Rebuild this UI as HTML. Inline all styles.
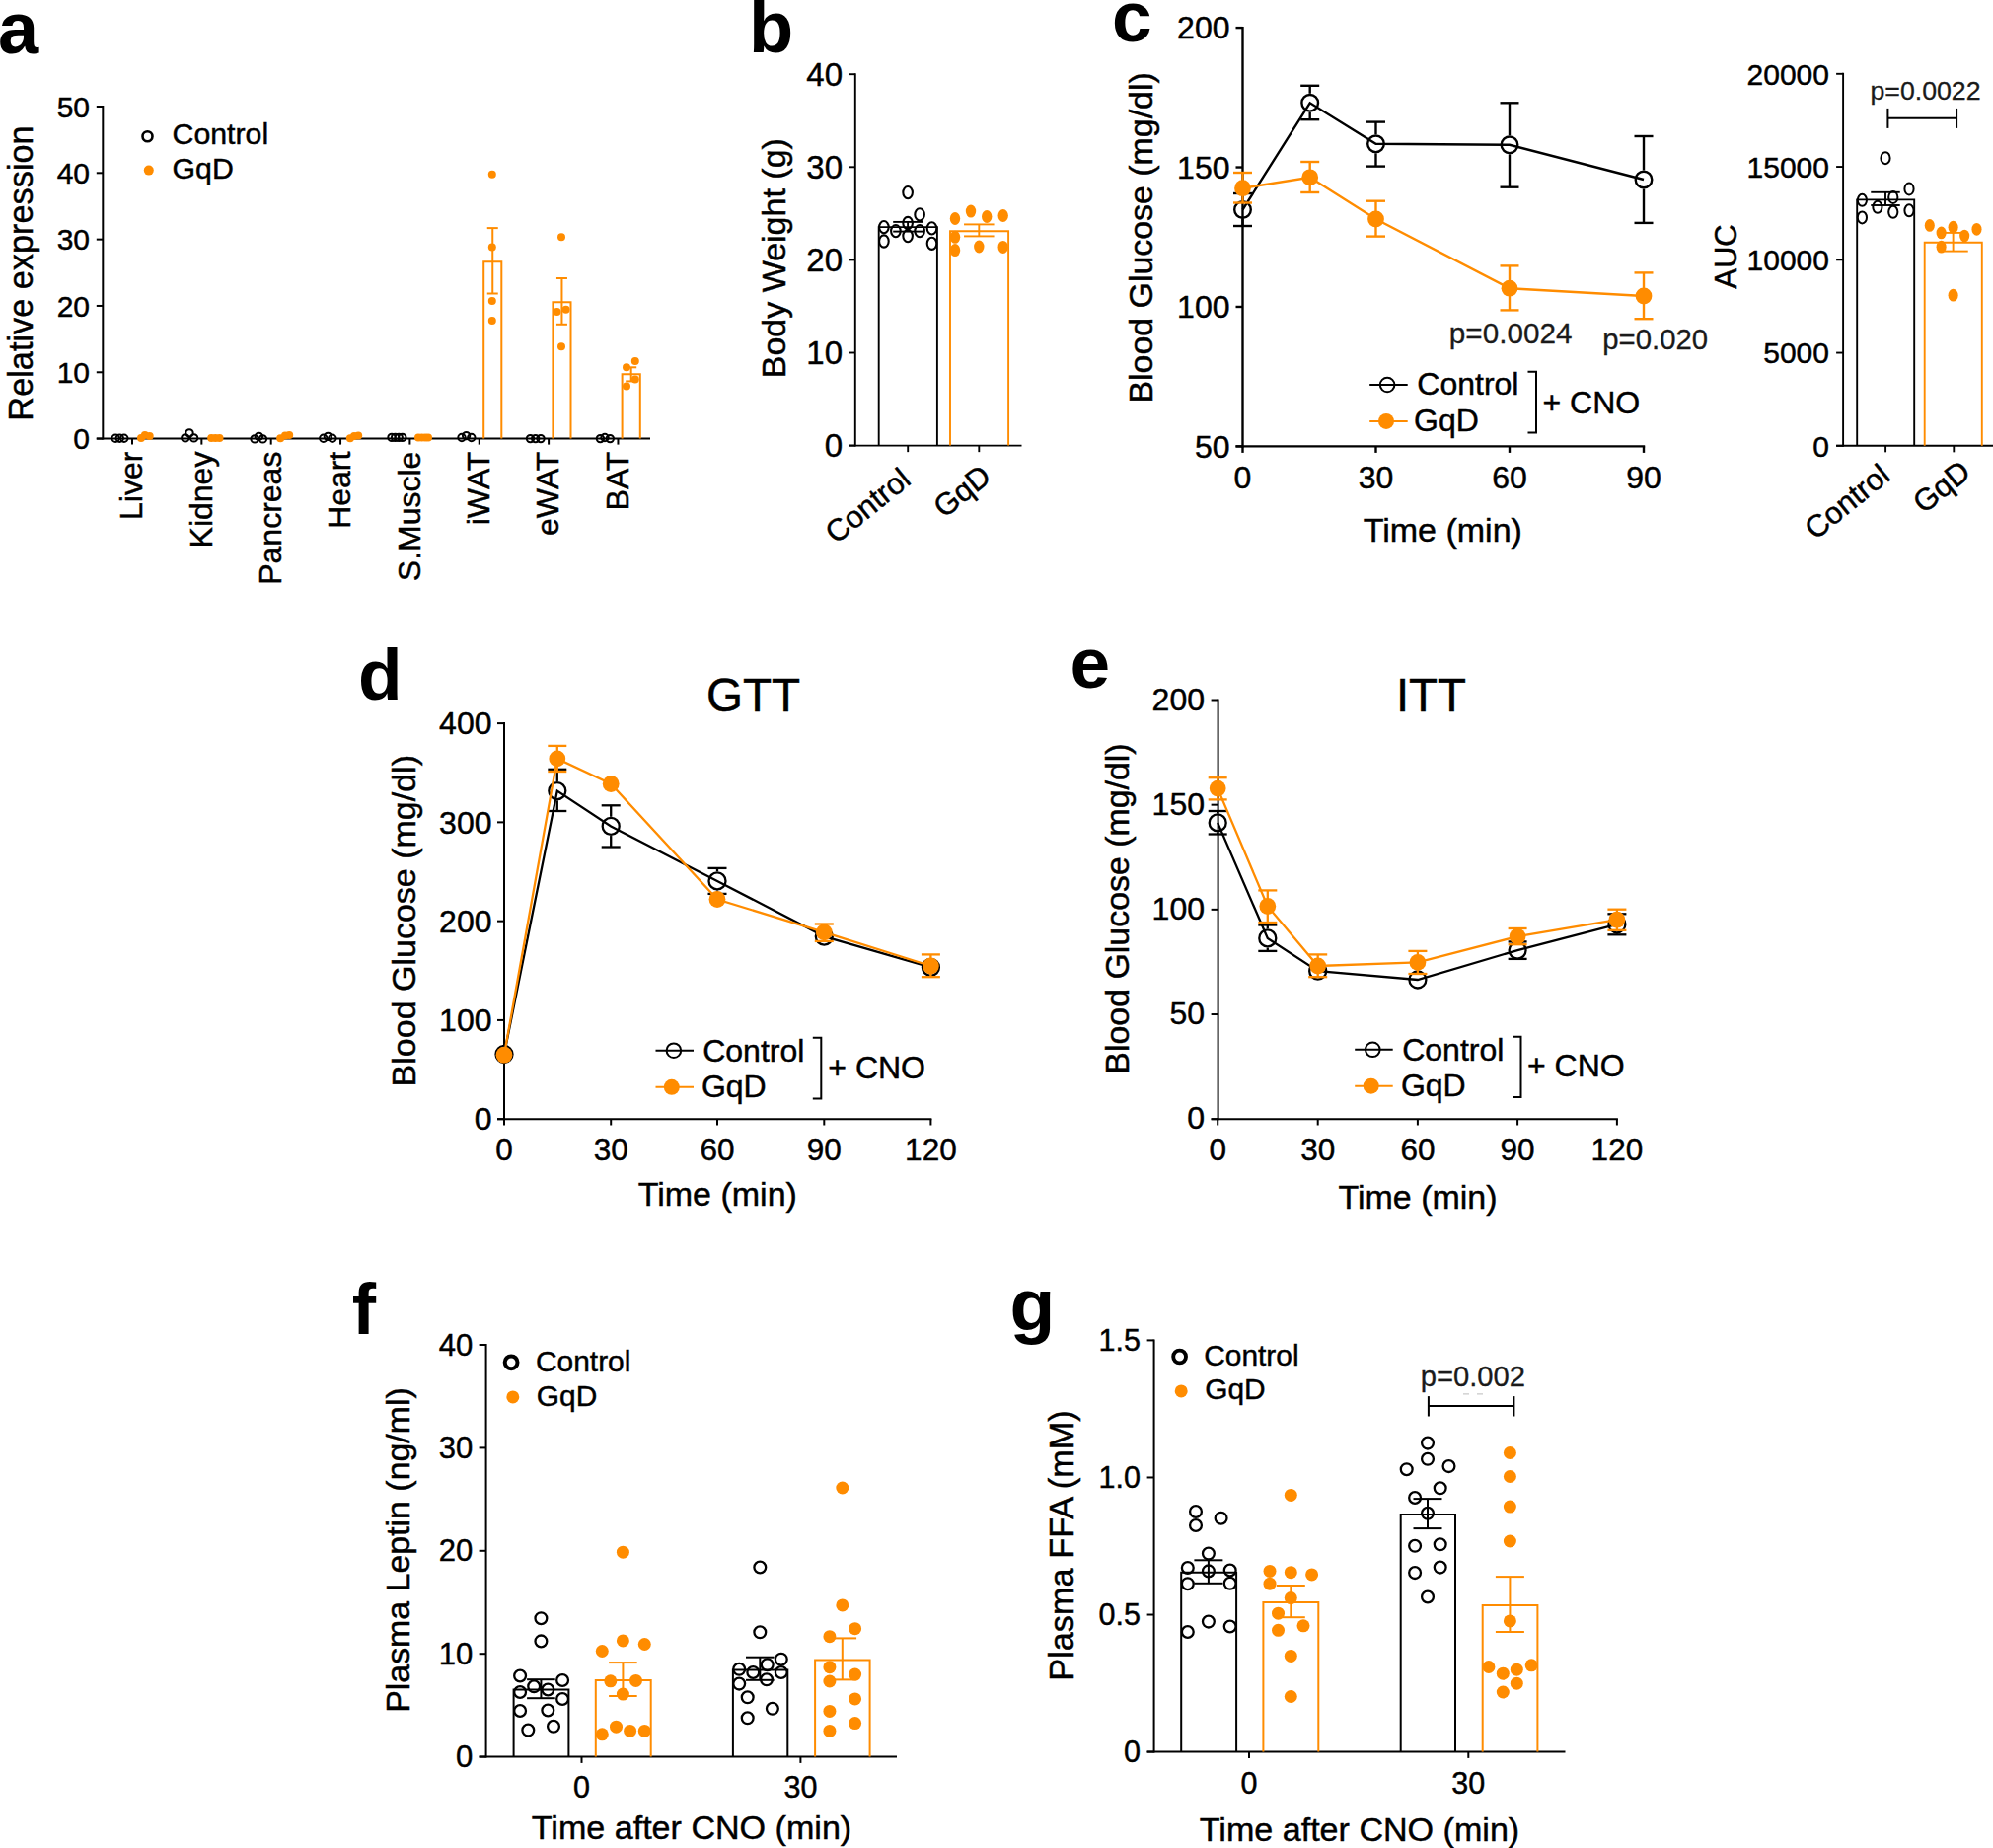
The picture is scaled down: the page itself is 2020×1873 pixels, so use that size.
<!DOCTYPE html>
<html lang="en">
<head>
<meta charset="utf-8">
<title>Figure</title>
<style>
html,body{margin:0;padding:0;background:#fff;}
svg{display:block;}
svg text{font-family:"Liberation Sans",sans-serif;}
</style>
</head>
<body>
<svg width="2020" height="1873" viewBox="0 0 2020 1873">
<rect width="2020" height="1873" fill="#fff"/>
<text x="-2" y="54" font-size="74" font-weight="bold">a</text>
<line x1="104.3" y1="107" x2="104.3" y2="445.6" stroke="#000" stroke-width="2"/>
<line x1="97.8" y1="444.6" x2="659" y2="444.6" stroke="#000" stroke-width="2"/>
<line x1="97.8" y1="444.6" x2="104.3" y2="444.6" stroke="#000" stroke-width="2"/>
<line x1="97.8" y1="377.28" x2="104.3" y2="377.28" stroke="#000" stroke-width="2"/>
<line x1="97.8" y1="309.96" x2="104.3" y2="309.96" stroke="#000" stroke-width="2"/>
<line x1="97.8" y1="242.64" x2="104.3" y2="242.64" stroke="#000" stroke-width="2"/>
<line x1="97.8" y1="175.32" x2="104.3" y2="175.32" stroke="#000" stroke-width="2"/>
<line x1="97.8" y1="108" x2="104.3" y2="108" stroke="#000" stroke-width="2"/>
<line x1="134" y1="444.6" x2="134" y2="450.6" stroke="#000" stroke-width="2"/>
<line x1="204.35" y1="444.6" x2="204.35" y2="450.6" stroke="#000" stroke-width="2"/>
<line x1="274.7" y1="444.6" x2="274.7" y2="450.6" stroke="#000" stroke-width="2"/>
<line x1="345.05" y1="444.6" x2="345.05" y2="450.6" stroke="#000" stroke-width="2"/>
<line x1="415.4" y1="444.6" x2="415.4" y2="450.6" stroke="#000" stroke-width="2"/>
<line x1="485.75" y1="444.6" x2="485.75" y2="450.6" stroke="#000" stroke-width="2"/>
<line x1="556.1" y1="444.6" x2="556.1" y2="450.6" stroke="#000" stroke-width="2"/>
<line x1="626.45" y1="444.6" x2="626.45" y2="450.6" stroke="#000" stroke-width="2"/>
<text x="91" y="455.3" font-size="30" text-anchor="end" stroke="#000" stroke-width="0.45">0</text>
<text x="91" y="387.98" font-size="30" text-anchor="end" stroke="#000" stroke-width="0.45">10</text>
<text x="91" y="320.66" font-size="30" text-anchor="end" stroke="#000" stroke-width="0.45">20</text>
<text x="91" y="253.34" font-size="30" text-anchor="end" stroke="#000" stroke-width="0.45">30</text>
<text x="91" y="186.02" font-size="30" text-anchor="end" stroke="#000" stroke-width="0.45">40</text>
<text x="91" y="118.7" font-size="30" text-anchor="end" stroke="#000" stroke-width="0.45">50</text>
<text transform="translate(33.2 277) rotate(-90)" font-size="34.3" text-anchor="middle" stroke="#000" stroke-width="0.45">Relative expression</text>
<text transform="translate(144.2 457.6) rotate(-90)" font-size="32" text-anchor="end" stroke="#000" stroke-width="0.45">Liver</text>
<text transform="translate(214.55 457.6) rotate(-90)" font-size="32" text-anchor="end" stroke="#000" stroke-width="0.45">Kidney</text>
<text transform="translate(284.9 457.6) rotate(-90)" font-size="32" text-anchor="end" stroke="#000" stroke-width="0.45">Pancreas</text>
<text transform="translate(355.25 457.6) rotate(-90)" font-size="32" text-anchor="end" stroke="#000" stroke-width="0.45">Heart</text>
<text transform="translate(425.6 457.6) rotate(-90)" font-size="32" text-anchor="end" stroke="#000" stroke-width="0.45">S.Muscle</text>
<text transform="translate(495.95 457.6) rotate(-90)" font-size="32" text-anchor="end" stroke="#000" stroke-width="0.45">iWAT</text>
<text transform="translate(566.3 457.6) rotate(-90)" font-size="32" text-anchor="end" stroke="#000" stroke-width="0.45">eWAT</text>
<text transform="translate(636.65 457.6) rotate(-90)" font-size="32" text-anchor="end" stroke="#000" stroke-width="0.45">BAT</text>
<ellipse cx="149.5" cy="138.3" rx="5" ry="5" fill="none" stroke="#000" stroke-width="2.6"/>
<text x="174.5" y="146.3" font-size="30.3" stroke="#000" stroke-width="0.45">Control</text>
<ellipse cx="150.8" cy="172.6" rx="5" ry="5" fill="#FF8C00"/>
<text x="174.5" y="181.2" font-size="30.3" stroke="#000" stroke-width="0.45">GqD</text>
<polyline fill="none" stroke="#FF8C00" stroke-width="2" points="490.2,444.6 490.2,265.2 508.3,265.2 508.3,444.6"/>
<line x1="499.25" y1="231.1" x2="499.25" y2="297.5" stroke="#FF8C00" stroke-width="2"/>
<line x1="493.75" y1="231.1" x2="504.75" y2="231.1" stroke="#FF8C00" stroke-width="2"/>
<line x1="493.75" y1="297.5" x2="504.75" y2="297.5" stroke="#FF8C00" stroke-width="2"/>
<polyline fill="none" stroke="#FF8C00" stroke-width="2" points="560.4,444.6 560.4,306.3 578.5,306.3 578.5,444.6"/>
<line x1="569.45" y1="282" x2="569.45" y2="328.8" stroke="#FF8C00" stroke-width="2"/>
<line x1="563.95" y1="282" x2="574.95" y2="282" stroke="#FF8C00" stroke-width="2"/>
<line x1="563.95" y1="328.8" x2="574.95" y2="328.8" stroke="#FF8C00" stroke-width="2"/>
<polyline fill="none" stroke="#FF8C00" stroke-width="2" points="630.6,444.6 630.6,379.3 648.8,379.3 648.8,444.6"/>
<line x1="639.7" y1="372.3" x2="639.7" y2="386.4" stroke="#FF8C00" stroke-width="2"/>
<line x1="634.2" y1="372.3" x2="645.2" y2="372.3" stroke="#FF8C00" stroke-width="2"/>
<line x1="634.2" y1="386.4" x2="645.2" y2="386.4" stroke="#FF8C00" stroke-width="2"/>
<ellipse cx="117.1" cy="444.3" rx="3.7" ry="3.7" fill="none" stroke="#000" stroke-width="2"/>
<ellipse cx="121.3" cy="444.3" rx="3.7" ry="3.7" fill="none" stroke="#000" stroke-width="2"/>
<ellipse cx="125.8" cy="444.3" rx="3.7" ry="3.7" fill="none" stroke="#000" stroke-width="2"/>
<ellipse cx="187.8" cy="443.9" rx="3.7" ry="3.7" fill="none" stroke="#000" stroke-width="2"/>
<ellipse cx="192" cy="438.9" rx="3.7" ry="3.7" fill="none" stroke="#000" stroke-width="2"/>
<ellipse cx="196.6" cy="443.9" rx="3.7" ry="3.7" fill="none" stroke="#000" stroke-width="2"/>
<ellipse cx="258.1" cy="444.9" rx="3.7" ry="3.7" fill="none" stroke="#000" stroke-width="2"/>
<ellipse cx="262.4" cy="442.4" rx="3.7" ry="3.7" fill="none" stroke="#000" stroke-width="2"/>
<ellipse cx="266.4" cy="444.9" rx="3.7" ry="3.7" fill="none" stroke="#000" stroke-width="2"/>
<ellipse cx="327.8" cy="444.3" rx="3.7" ry="3.7" fill="none" stroke="#000" stroke-width="2"/>
<ellipse cx="332.4" cy="442.4" rx="3.7" ry="3.7" fill="none" stroke="#000" stroke-width="2"/>
<ellipse cx="336.9" cy="444.3" rx="3.7" ry="3.7" fill="none" stroke="#000" stroke-width="2"/>
<ellipse cx="397" cy="443.4" rx="3.7" ry="3.7" fill="none" stroke="#000" stroke-width="2"/>
<ellipse cx="400.6" cy="443.4" rx="3.7" ry="3.7" fill="none" stroke="#000" stroke-width="2"/>
<ellipse cx="404.2" cy="443.4" rx="3.7" ry="3.7" fill="none" stroke="#000" stroke-width="2"/>
<ellipse cx="407.8" cy="443.4" rx="3.7" ry="3.7" fill="none" stroke="#000" stroke-width="2"/>
<ellipse cx="468" cy="443.5" rx="3.7" ry="3.7" fill="none" stroke="#000" stroke-width="2"/>
<ellipse cx="472.6" cy="441.6" rx="3.7" ry="3.7" fill="none" stroke="#000" stroke-width="2"/>
<ellipse cx="477.8" cy="443.5" rx="3.7" ry="3.7" fill="none" stroke="#000" stroke-width="2"/>
<ellipse cx="537.5" cy="444.6" rx="3.7" ry="3.7" fill="none" stroke="#000" stroke-width="2"/>
<ellipse cx="542.7" cy="444.6" rx="3.7" ry="3.7" fill="none" stroke="#000" stroke-width="2"/>
<ellipse cx="548" cy="444.6" rx="3.7" ry="3.7" fill="none" stroke="#000" stroke-width="2"/>
<ellipse cx="608.4" cy="444.6" rx="3.7" ry="3.7" fill="none" stroke="#000" stroke-width="2"/>
<ellipse cx="613" cy="443.5" rx="3.7" ry="3.7" fill="none" stroke="#000" stroke-width="2"/>
<ellipse cx="618.3" cy="444.6" rx="3.7" ry="3.7" fill="none" stroke="#000" stroke-width="2"/>
<ellipse cx="143" cy="443.9" rx="4" ry="4" fill="#FF8C00"/>
<ellipse cx="146.9" cy="440.9" rx="4" ry="4" fill="#FF8C00"/>
<ellipse cx="151.7" cy="441.9" rx="4" ry="4" fill="#FF8C00"/>
<ellipse cx="214.2" cy="443.9" rx="4" ry="4" fill="#FF8C00"/>
<ellipse cx="218.3" cy="443.9" rx="4" ry="4" fill="#FF8C00"/>
<ellipse cx="222.5" cy="443.9" rx="4" ry="4" fill="#FF8C00"/>
<ellipse cx="284.2" cy="444.3" rx="4" ry="4" fill="#FF8C00"/>
<ellipse cx="289" cy="441.6" rx="4" ry="4" fill="#FF8C00"/>
<ellipse cx="293.2" cy="440.9" rx="4" ry="4" fill="#FF8C00"/>
<ellipse cx="354.9" cy="444.3" rx="4" ry="4" fill="#FF8C00"/>
<ellipse cx="359" cy="441.9" rx="4" ry="4" fill="#FF8C00"/>
<ellipse cx="363.2" cy="441.6" rx="4" ry="4" fill="#FF8C00"/>
<ellipse cx="424" cy="443.4" rx="4" ry="4" fill="#FF8C00"/>
<ellipse cx="427.5" cy="443.4" rx="4" ry="4" fill="#FF8C00"/>
<ellipse cx="431" cy="443.4" rx="4" ry="4" fill="#FF8C00"/>
<ellipse cx="434" cy="443.4" rx="4" ry="4" fill="#FF8C00"/>
<ellipse cx="498.8" cy="176.7" rx="4" ry="4" fill="#FF8C00"/>
<ellipse cx="498.8" cy="250.4" rx="4" ry="4" fill="#FF8C00"/>
<ellipse cx="498.8" cy="304.9" rx="4" ry="4" fill="#FF8C00"/>
<ellipse cx="498.8" cy="324.9" rx="4" ry="4" fill="#FF8C00"/>
<ellipse cx="569" cy="240.3" rx="4" ry="4" fill="#FF8C00"/>
<ellipse cx="564.5" cy="316.1" rx="4" ry="4" fill="#FF8C00"/>
<ellipse cx="573.6" cy="313.7" rx="4" ry="4" fill="#FF8C00"/>
<ellipse cx="569" cy="351.2" rx="4" ry="4" fill="#FF8C00"/>
<ellipse cx="635" cy="372.3" rx="4" ry="4" fill="#FF8C00"/>
<ellipse cx="643.8" cy="366" rx="4" ry="4" fill="#FF8C00"/>
<ellipse cx="643.8" cy="384.6" rx="4" ry="4" fill="#FF8C00"/>
<ellipse cx="635" cy="391.6" rx="4" ry="4" fill="#FF8C00"/>
<text x="759" y="53" font-size="74" font-weight="bold">b</text>
<line x1="866.8" y1="74.25" x2="866.8" y2="452.55" stroke="#000" stroke-width="1.9"/>
<line x1="860.3" y1="451.6" x2="1035.5" y2="451.6" stroke="#000" stroke-width="1.9"/>
<line x1="860.3" y1="451.6" x2="866.8" y2="451.6" stroke="#000" stroke-width="1.9"/>
<line x1="860.3" y1="357.5" x2="866.8" y2="357.5" stroke="#000" stroke-width="1.9"/>
<line x1="860.3" y1="263.4" x2="866.8" y2="263.4" stroke="#000" stroke-width="1.9"/>
<line x1="860.3" y1="169.3" x2="866.8" y2="169.3" stroke="#000" stroke-width="1.9"/>
<line x1="860.3" y1="75.2" x2="866.8" y2="75.2" stroke="#000" stroke-width="1.9"/>
<line x1="920.2" y1="451.6" x2="920.2" y2="458.15" stroke="#000" stroke-width="1.9"/>
<line x1="992.3" y1="451.6" x2="992.3" y2="458.15" stroke="#000" stroke-width="1.9"/>
<text x="854" y="462.9" font-size="33" text-anchor="end" stroke="#000" stroke-width="0.45">0</text>
<text x="854" y="368.8" font-size="33" text-anchor="end" stroke="#000" stroke-width="0.45">10</text>
<text x="854" y="274.7" font-size="33" text-anchor="end" stroke="#000" stroke-width="0.45">20</text>
<text x="854" y="180.6" font-size="33" text-anchor="end" stroke="#000" stroke-width="0.45">30</text>
<text x="854" y="86.5" font-size="33" text-anchor="end" stroke="#000" stroke-width="0.45">40</text>
<text transform="translate(795.5 261.7) rotate(-90)" font-size="34" text-anchor="middle" stroke="#000" stroke-width="0.45">Body Weight (g)</text>
<text transform="translate(924.9 489.2) rotate(-39)" font-size="31" text-anchor="end" stroke="#000" stroke-width="0.45">Control</text>
<text transform="translate(1006.5 486) rotate(-39)" font-size="31" text-anchor="end" stroke="#000" stroke-width="0.45">GqD</text>
<polyline fill="none" stroke="#000" stroke-width="1.9" points="890.7,451.6 890.7,230.1 949.9,230.1 949.9,451.6"/>
<line x1="920.1" y1="224.9" x2="920.1" y2="234.6" stroke="#000" stroke-width="1.9"/>
<line x1="905.2" y1="224.9" x2="935" y2="224.9" stroke="#000" stroke-width="1.9"/>
<line x1="905.2" y1="234.6" x2="935" y2="234.6" stroke="#000" stroke-width="1.9"/>
<polyline fill="none" stroke="#FF8C00" stroke-width="1.9" points="963,451.6 963,234.3 1022.1,234.3 1022.1,451.6"/>
<line x1="992.3" y1="227.4" x2="992.3" y2="239.4" stroke="#FF8C00" stroke-width="1.9"/>
<line x1="977.05" y1="227.4" x2="1007.55" y2="227.4" stroke="#FF8C00" stroke-width="1.9"/>
<line x1="977.05" y1="239.4" x2="1007.55" y2="239.4" stroke="#FF8C00" stroke-width="1.9"/>
<ellipse cx="920.1" cy="195.1" rx="4.8" ry="6.1" fill="none" stroke="#000" stroke-width="2.1"/>
<ellipse cx="932.1" cy="217.4" rx="4.8" ry="6.1" fill="none" stroke="#000" stroke-width="2.1"/>
<ellipse cx="920.1" cy="226" rx="4.8" ry="6.1" fill="none" stroke="#000" stroke-width="2.1"/>
<ellipse cx="895.9" cy="230.1" rx="4.8" ry="6.1" fill="none" stroke="#000" stroke-width="2.1"/>
<ellipse cx="907.9" cy="234.1" rx="4.8" ry="6.1" fill="none" stroke="#000" stroke-width="2.1"/>
<ellipse cx="920.1" cy="239.1" rx="4.8" ry="6.1" fill="none" stroke="#000" stroke-width="2.1"/>
<ellipse cx="932.1" cy="234.1" rx="4.8" ry="6.1" fill="none" stroke="#000" stroke-width="2.1"/>
<ellipse cx="944.5" cy="231.4" rx="4.8" ry="6.1" fill="none" stroke="#000" stroke-width="2.1"/>
<ellipse cx="895.9" cy="244.5" rx="4.8" ry="6.1" fill="none" stroke="#000" stroke-width="2.1"/>
<ellipse cx="944.5" cy="246.8" rx="4.8" ry="6.1" fill="none" stroke="#000" stroke-width="2.1"/>
<ellipse cx="968" cy="221.5" rx="5.2" ry="6.5" fill="#FF8C00"/>
<ellipse cx="984" cy="214.1" rx="5.2" ry="6.5" fill="#FF8C00"/>
<ellipse cx="1000.2" cy="219.5" rx="5.2" ry="6.5" fill="#FF8C00"/>
<ellipse cx="1016.7" cy="218.5" rx="5.2" ry="6.5" fill="#FF8C00"/>
<ellipse cx="968" cy="240.3" rx="5.2" ry="6.5" fill="#FF8C00"/>
<ellipse cx="968" cy="253.6" rx="5.2" ry="6.5" fill="#FF8C00"/>
<ellipse cx="992.3" cy="250" rx="5.2" ry="6.5" fill="#FF8C00"/>
<ellipse cx="1016.7" cy="250.4" rx="5.2" ry="6.5" fill="#FF8C00"/>
<text x="1127" y="42" font-size="73" font-weight="bold">c</text>
<line x1="1259.5" y1="26.9" x2="1259.5" y2="453.6" stroke="#000" stroke-width="2.4"/>
<line x1="1252.5" y1="452.4" x2="1667.2" y2="452.4" stroke="#000" stroke-width="2.4"/>
<line x1="1252.5" y1="452.4" x2="1259.5" y2="452.4" stroke="#000" stroke-width="2.4"/>
<line x1="1252.5" y1="310.97" x2="1259.5" y2="310.97" stroke="#000" stroke-width="2.4"/>
<line x1="1252.5" y1="169.53" x2="1259.5" y2="169.53" stroke="#000" stroke-width="2.4"/>
<line x1="1252.5" y1="28.1" x2="1259.5" y2="28.1" stroke="#000" stroke-width="2.4"/>
<line x1="1259.5" y1="452.4" x2="1259.5" y2="458.9" stroke="#000" stroke-width="2.4"/>
<line x1="1394.5" y1="452.4" x2="1394.5" y2="458.9" stroke="#000" stroke-width="2.4"/>
<line x1="1530" y1="452.4" x2="1530" y2="458.9" stroke="#000" stroke-width="2.4"/>
<line x1="1666" y1="452.4" x2="1666" y2="458.9" stroke="#000" stroke-width="2.4"/>
<text x="1246.5" y="463.6" font-size="32" text-anchor="end" stroke="#000" stroke-width="0.45">50</text>
<text x="1246.5" y="322.17" font-size="32" text-anchor="end" stroke="#000" stroke-width="0.45">100</text>
<text x="1246.5" y="180.73" font-size="32" text-anchor="end" stroke="#000" stroke-width="0.45">150</text>
<text x="1246.5" y="39.3" font-size="32" text-anchor="end" stroke="#000" stroke-width="0.45">200</text>
<text x="1259.5" y="494.8" font-size="32" text-anchor="middle" stroke="#000" stroke-width="0.45">0</text>
<text x="1394.5" y="494.8" font-size="32" text-anchor="middle" stroke="#000" stroke-width="0.45">30</text>
<text x="1530" y="494.8" font-size="32" text-anchor="middle" stroke="#000" stroke-width="0.45">60</text>
<text x="1666" y="494.8" font-size="32" text-anchor="middle" stroke="#000" stroke-width="0.45">90</text>
<text x="1462.3" y="549.2" font-size="34" text-anchor="middle" stroke="#000" stroke-width="0.45">Time (min)</text>
<text transform="translate(1168.2 240.9) rotate(-90)" font-size="33.9" text-anchor="middle" stroke="#000" stroke-width="0.45">Blood Glucose (mg/dl)</text>
<line x1="1259.5" y1="196" x2="1259.5" y2="203" stroke="#000" stroke-width="2.4"/>
<line x1="1259.5" y1="222" x2="1259.5" y2="229" stroke="#000" stroke-width="2.4"/>
<line x1="1250" y1="196" x2="1269" y2="196" stroke="#000" stroke-width="2.4"/>
<line x1="1250" y1="229" x2="1269" y2="229" stroke="#000" stroke-width="2.4"/>
<line x1="1327.7" y1="86.8" x2="1327.7" y2="94.8" stroke="#000" stroke-width="2.4"/>
<line x1="1327.7" y1="113.8" x2="1327.7" y2="121.2" stroke="#000" stroke-width="2.4"/>
<line x1="1318.2" y1="86.8" x2="1337.2" y2="86.8" stroke="#000" stroke-width="2.4"/>
<line x1="1318.2" y1="121.2" x2="1337.2" y2="121.2" stroke="#000" stroke-width="2.4"/>
<line x1="1394.5" y1="123.6" x2="1394.5" y2="136.3" stroke="#000" stroke-width="2.4"/>
<line x1="1394.5" y1="155.3" x2="1394.5" y2="168.6" stroke="#000" stroke-width="2.4"/>
<line x1="1385" y1="123.6" x2="1404" y2="123.6" stroke="#000" stroke-width="2.4"/>
<line x1="1385" y1="168.6" x2="1404" y2="168.6" stroke="#000" stroke-width="2.4"/>
<line x1="1530" y1="104.3" x2="1530" y2="137.3" stroke="#000" stroke-width="2.4"/>
<line x1="1530" y1="156.3" x2="1530" y2="189.7" stroke="#000" stroke-width="2.4"/>
<line x1="1520.5" y1="104.3" x2="1539.5" y2="104.3" stroke="#000" stroke-width="2.4"/>
<line x1="1520.5" y1="189.7" x2="1539.5" y2="189.7" stroke="#000" stroke-width="2.4"/>
<line x1="1666" y1="138" x2="1666" y2="172.5" stroke="#000" stroke-width="2.4"/>
<line x1="1666" y1="191.5" x2="1666" y2="225.9" stroke="#000" stroke-width="2.4"/>
<line x1="1656.5" y1="138" x2="1675.5" y2="138" stroke="#000" stroke-width="2.4"/>
<line x1="1656.5" y1="225.9" x2="1675.5" y2="225.9" stroke="#000" stroke-width="2.4"/>
<ellipse cx="1259.5" cy="212.5" rx="8.3" ry="8.3" fill="none" stroke="#000" stroke-width="2.4"/>
<ellipse cx="1327.7" cy="104.3" rx="8.3" ry="8.3" fill="none" stroke="#000" stroke-width="2.4"/>
<ellipse cx="1394.5" cy="145.8" rx="8.3" ry="8.3" fill="none" stroke="#000" stroke-width="2.4"/>
<ellipse cx="1530" cy="146.8" rx="8.3" ry="8.3" fill="none" stroke="#000" stroke-width="2.4"/>
<ellipse cx="1666" cy="182" rx="8.3" ry="8.3" fill="none" stroke="#000" stroke-width="2.4"/>
<polyline fill="none" stroke="#000" stroke-width="2.4" points="1259.5,212.5 1327.7,104.3 1394.5,145.8 1530,146.8 1666,182"/>
<line x1="1259.5" y1="175" x2="1259.5" y2="205.5" stroke="#FF8C00" stroke-width="2.4"/>
<line x1="1250" y1="175" x2="1269" y2="175" stroke="#FF8C00" stroke-width="2.4"/>
<line x1="1250" y1="205.5" x2="1269" y2="205.5" stroke="#FF8C00" stroke-width="2.4"/>
<line x1="1327.7" y1="164" x2="1327.7" y2="195" stroke="#FF8C00" stroke-width="2.4"/>
<line x1="1318.2" y1="164" x2="1337.2" y2="164" stroke="#FF8C00" stroke-width="2.4"/>
<line x1="1318.2" y1="195" x2="1337.2" y2="195" stroke="#FF8C00" stroke-width="2.4"/>
<line x1="1394.5" y1="203.7" x2="1394.5" y2="239.6" stroke="#FF8C00" stroke-width="2.4"/>
<line x1="1385" y1="203.7" x2="1404" y2="203.7" stroke="#FF8C00" stroke-width="2.4"/>
<line x1="1385" y1="239.6" x2="1404" y2="239.6" stroke="#FF8C00" stroke-width="2.4"/>
<line x1="1530" y1="269.4" x2="1530" y2="314.4" stroke="#FF8C00" stroke-width="2.4"/>
<line x1="1520.5" y1="269.4" x2="1539.5" y2="269.4" stroke="#FF8C00" stroke-width="2.4"/>
<line x1="1520.5" y1="314.4" x2="1539.5" y2="314.4" stroke="#FF8C00" stroke-width="2.4"/>
<line x1="1666" y1="276.4" x2="1666" y2="323.2" stroke="#FF8C00" stroke-width="2.4"/>
<line x1="1656.5" y1="276.4" x2="1675.5" y2="276.4" stroke="#FF8C00" stroke-width="2.4"/>
<line x1="1656.5" y1="323.2" x2="1675.5" y2="323.2" stroke="#FF8C00" stroke-width="2.4"/>
<polyline fill="none" stroke="#FF8C00" stroke-width="2.4" points="1259.5,190.7 1327.7,179.8 1394.5,222 1530,292.2 1666,300"/>
<ellipse cx="1259.5" cy="190.7" rx="8.4" ry="8.4" fill="#FF8C00"/>
<ellipse cx="1327.7" cy="179.8" rx="8.4" ry="8.4" fill="#FF8C00"/>
<ellipse cx="1394.5" cy="222" rx="8.4" ry="8.4" fill="#FF8C00"/>
<ellipse cx="1530" cy="292.2" rx="8.4" ry="8.4" fill="#FF8C00"/>
<ellipse cx="1666" cy="300" rx="8.4" ry="8.4" fill="#FF8C00"/>
<text x="1468.8" y="347.5" font-size="29.7" fill="#1a1a1a" stroke="#1a1a1a" stroke-width="0.3">p=0.0024</text>
<text x="1624.3" y="354" font-size="29.3" fill="#1a1a1a" stroke="#1a1a1a" stroke-width="0.3">p=0.020</text>
<ellipse cx="1406.1" cy="390" rx="7.3" ry="7.3" fill="none" stroke="#000" stroke-width="2"/>
<line x1="1388.2" y1="390" x2="1426.7" y2="390" stroke="#000" stroke-width="2"/>
<text x="1436.3" y="400.3" font-size="32" stroke="#000" stroke-width="0.45">Control</text>
<line x1="1388.2" y1="426.9" x2="1426.7" y2="426.9" stroke="#FF8C00" stroke-width="2"/>
<ellipse cx="1405" cy="426.9" rx="8" ry="8" fill="#FF8C00"/>
<text x="1433.1" y="437.2" font-size="32" stroke="#000" stroke-width="0.45">GqD</text>
<polyline fill="none" stroke="#000" stroke-width="2" points="1548.5,376.8 1557,376.8 1557,438.4 1548.5,438.4"/>
<text x="1563.5" y="418.7" font-size="32" stroke="#000" stroke-width="0.45">+ CNO</text>
<line x1="1868.1" y1="73.85" x2="1868.1" y2="452.75" stroke="#000" stroke-width="1.9"/>
<line x1="1861.1" y1="451.8" x2="2020" y2="451.8" stroke="#000" stroke-width="1.9"/>
<line x1="1861.1" y1="451.8" x2="1868.1" y2="451.8" stroke="#000" stroke-width="1.9"/>
<line x1="1861.1" y1="357.55" x2="1868.1" y2="357.55" stroke="#000" stroke-width="1.9"/>
<line x1="1861.1" y1="263.3" x2="1868.1" y2="263.3" stroke="#000" stroke-width="1.9"/>
<line x1="1861.1" y1="169.05" x2="1868.1" y2="169.05" stroke="#000" stroke-width="1.9"/>
<line x1="1861.1" y1="74.8" x2="1868.1" y2="74.8" stroke="#000" stroke-width="1.9"/>
<line x1="1911.1" y1="451.8" x2="1911.1" y2="458.35" stroke="#000" stroke-width="1.9"/>
<line x1="1980.3" y1="451.8" x2="1980.3" y2="458.35" stroke="#000" stroke-width="1.9"/>
<text x="1854" y="462.5" font-size="30" text-anchor="end" stroke="#000" stroke-width="0.45">0</text>
<text x="1854" y="368.25" font-size="30" text-anchor="end" stroke="#000" stroke-width="0.45">5000</text>
<text x="1854" y="274" font-size="30" text-anchor="end" stroke="#000" stroke-width="0.45">10000</text>
<text x="1854" y="179.75" font-size="30" text-anchor="end" stroke="#000" stroke-width="0.45">15000</text>
<text x="1854" y="85.5" font-size="30" text-anchor="end" stroke="#000" stroke-width="0.45">20000</text>
<text transform="translate(1759.5 260) rotate(-90)" font-size="31" text-anchor="middle" stroke="#000" stroke-width="0.45">AUC</text>
<text transform="translate(1917.6 485.1) rotate(-39)" font-size="31" text-anchor="end" stroke="#000" stroke-width="0.45">Control</text>
<text transform="translate(1999.2 481.5) rotate(-39)" font-size="31" text-anchor="end" stroke="#000" stroke-width="0.45">GqD</text>
<polyline fill="none" stroke="#000" stroke-width="1.9" points="1882.2,451.8 1882.2,202.4 1940.2,202.4 1940.2,451.8"/>
<line x1="1911" y1="194.8" x2="1911" y2="208" stroke="#000" stroke-width="1.9"/>
<line x1="1896.25" y1="194.8" x2="1925.75" y2="194.8" stroke="#000" stroke-width="1.9"/>
<line x1="1896.25" y1="208" x2="1925.75" y2="208" stroke="#000" stroke-width="1.9"/>
<polyline fill="none" stroke="#FF8C00" stroke-width="1.9" points="1950.7,451.8 1950.7,245.7 2008.8,245.7 2008.8,451.8"/>
<line x1="1979.6" y1="235.9" x2="1979.6" y2="254.6" stroke="#FF8C00" stroke-width="1.9"/>
<line x1="1964.45" y1="235.9" x2="1994.75" y2="235.9" stroke="#FF8C00" stroke-width="1.9"/>
<line x1="1964.45" y1="254.6" x2="1994.75" y2="254.6" stroke="#FF8C00" stroke-width="1.9"/>
<ellipse cx="1911" cy="160.2" rx="4.6" ry="6" fill="none" stroke="#000" stroke-width="2"/>
<ellipse cx="1935" cy="191.5" rx="4.6" ry="6" fill="none" stroke="#000" stroke-width="2"/>
<ellipse cx="1918.8" cy="200" rx="4.6" ry="6" fill="none" stroke="#000" stroke-width="2"/>
<ellipse cx="1887.4" cy="202.8" rx="4.6" ry="6" fill="none" stroke="#000" stroke-width="2"/>
<ellipse cx="1902.9" cy="209.8" rx="4.6" ry="6" fill="none" stroke="#000" stroke-width="2"/>
<ellipse cx="1918.8" cy="214.8" rx="4.6" ry="6" fill="none" stroke="#000" stroke-width="2"/>
<ellipse cx="1935" cy="213.3" rx="4.6" ry="6" fill="none" stroke="#000" stroke-width="2"/>
<ellipse cx="1887.4" cy="220.4" rx="4.6" ry="6" fill="none" stroke="#000" stroke-width="2"/>
<ellipse cx="1955.8" cy="228.4" rx="5.05" ry="6.35" fill="#FF8C00"/>
<ellipse cx="1967.6" cy="235.9" rx="5.05" ry="6.35" fill="#FF8C00"/>
<ellipse cx="1979.6" cy="230.2" rx="5.05" ry="6.35" fill="#FF8C00"/>
<ellipse cx="1991.2" cy="239" rx="5.05" ry="6.35" fill="#FF8C00"/>
<ellipse cx="2003.5" cy="232.3" rx="5.05" ry="6.35" fill="#FF8C00"/>
<ellipse cx="1967.6" cy="250.2" rx="5.05" ry="6.35" fill="#FF8C00"/>
<ellipse cx="1979.6" cy="299.2" rx="5.05" ry="6.35" fill="#FF8C00"/>
<text x="1895.5" y="100.8" font-size="26.7" fill="#1a1a1a" stroke="#1a1a1a" stroke-width="0.3">p=0.0022</text>
<line x1="1913.4" y1="119.8" x2="1983.1" y2="119.8" stroke="#000" stroke-width="2"/>
<line x1="1913.4" y1="109.9" x2="1913.4" y2="129.9" stroke="#000" stroke-width="2"/>
<line x1="1983.1" y1="109.9" x2="1983.1" y2="129.9" stroke="#000" stroke-width="2"/>
<text x="363" y="708.5" font-size="73" font-weight="bold">d</text>
<line x1="511" y1="732.1" x2="511" y2="1135.2" stroke="#000" stroke-width="2"/>
<line x1="504" y1="1134.2" x2="944.4" y2="1134.2" stroke="#000" stroke-width="2"/>
<line x1="504" y1="1134.2" x2="511" y2="1134.2" stroke="#000" stroke-width="2"/>
<line x1="504" y1="1033.92" x2="511" y2="1033.92" stroke="#000" stroke-width="2"/>
<line x1="504" y1="933.65" x2="511" y2="933.65" stroke="#000" stroke-width="2"/>
<line x1="504" y1="833.38" x2="511" y2="833.38" stroke="#000" stroke-width="2"/>
<line x1="504" y1="733.1" x2="511" y2="733.1" stroke="#000" stroke-width="2"/>
<line x1="511" y1="1134.2" x2="511" y2="1140.5" stroke="#000" stroke-width="2"/>
<line x1="619.2" y1="1134.2" x2="619.2" y2="1140.5" stroke="#000" stroke-width="2"/>
<line x1="727" y1="1134.2" x2="727" y2="1140.5" stroke="#000" stroke-width="2"/>
<line x1="835.3" y1="1134.2" x2="835.3" y2="1140.5" stroke="#000" stroke-width="2"/>
<line x1="943.4" y1="1134.2" x2="943.4" y2="1140.5" stroke="#000" stroke-width="2"/>
<text x="498.5" y="1145.4" font-size="32" text-anchor="end" stroke="#000" stroke-width="0.45">0</text>
<text x="498.5" y="1045.12" font-size="32" text-anchor="end" stroke="#000" stroke-width="0.45">100</text>
<text x="498.5" y="944.85" font-size="32" text-anchor="end" stroke="#000" stroke-width="0.45">200</text>
<text x="498.5" y="844.58" font-size="32" text-anchor="end" stroke="#000" stroke-width="0.45">300</text>
<text x="498.5" y="744.3" font-size="32" text-anchor="end" stroke="#000" stroke-width="0.45">400</text>
<text x="511" y="1176.1" font-size="31.5" text-anchor="middle" stroke="#000" stroke-width="0.45">0</text>
<text x="619.2" y="1176.1" font-size="31.5" text-anchor="middle" stroke="#000" stroke-width="0.45">30</text>
<text x="727" y="1176.1" font-size="31.5" text-anchor="middle" stroke="#000" stroke-width="0.45">60</text>
<text x="835.3" y="1176.1" font-size="31.5" text-anchor="middle" stroke="#000" stroke-width="0.45">90</text>
<text x="943.4" y="1176.1" font-size="31.5" text-anchor="middle" stroke="#000" stroke-width="0.45">120</text>
<text x="727.3" y="1222" font-size="34" text-anchor="middle" stroke="#000" stroke-width="0.45">Time (min)</text>
<text transform="translate(421 933.2) rotate(-90)" font-size="34" text-anchor="middle" stroke="#000" stroke-width="0.45">Blood Glucose (mg/dl)</text>
<text x="763.5" y="720.8" font-size="47.6" text-anchor="middle" stroke="#000" stroke-width="0.45">GTT</text>
<line x1="564.8" y1="779.8" x2="564.8" y2="791.95" stroke="#000" stroke-width="2.3"/>
<line x1="564.8" y1="811.25" x2="564.8" y2="822" stroke="#000" stroke-width="2.3"/>
<line x1="555.3" y1="779.8" x2="574.3" y2="779.8" stroke="#000" stroke-width="2.3"/>
<line x1="555.3" y1="822" x2="574.3" y2="822" stroke="#000" stroke-width="2.3"/>
<line x1="619.2" y1="816.3" x2="619.2" y2="827.75" stroke="#000" stroke-width="2.3"/>
<line x1="619.2" y1="847.05" x2="619.2" y2="858.5" stroke="#000" stroke-width="2.3"/>
<line x1="609.7" y1="816.3" x2="628.7" y2="816.3" stroke="#000" stroke-width="2.3"/>
<line x1="609.7" y1="858.5" x2="628.7" y2="858.5" stroke="#000" stroke-width="2.3"/>
<line x1="727" y1="879.9" x2="727" y2="883.25" stroke="#000" stroke-width="2.3"/>
<line x1="727" y1="902.55" x2="727" y2="905.9" stroke="#000" stroke-width="2.3"/>
<line x1="717.5" y1="879.9" x2="736.5" y2="879.9" stroke="#000" stroke-width="2.3"/>
<line x1="717.5" y1="905.9" x2="736.5" y2="905.9" stroke="#000" stroke-width="2.3"/>
<ellipse cx="511" cy="1068.5" rx="8.5" ry="8.5" fill="none" stroke="#000" stroke-width="2.3"/>
<ellipse cx="564.8" cy="801.6" rx="8.5" ry="8.5" fill="none" stroke="#000" stroke-width="2.3"/>
<ellipse cx="619.2" cy="837.4" rx="8.5" ry="8.5" fill="none" stroke="#000" stroke-width="2.3"/>
<ellipse cx="727" cy="892.9" rx="8.5" ry="8.5" fill="none" stroke="#000" stroke-width="2.3"/>
<ellipse cx="835.3" cy="949.1" rx="8.5" ry="8.5" fill="none" stroke="#000" stroke-width="2.3"/>
<ellipse cx="943.4" cy="980.4" rx="8.5" ry="8.5" fill="none" stroke="#000" stroke-width="2.3"/>
<polyline fill="none" stroke="#000" stroke-width="2.3" points="511,1068.5 564.8,801.6 619.2,837.4 727,892.9 835.3,949.1 943.4,980.4"/>
<line x1="564.8" y1="755.9" x2="564.8" y2="782" stroke="#FF8C00" stroke-width="2.3"/>
<line x1="555.3" y1="755.9" x2="574.3" y2="755.9" stroke="#FF8C00" stroke-width="2.3"/>
<line x1="555.3" y1="782" x2="574.3" y2="782" stroke="#FF8C00" stroke-width="2.3"/>
<line x1="835.3" y1="936.5" x2="835.3" y2="953.9" stroke="#FF8C00" stroke-width="2.3"/>
<line x1="825.8" y1="936.5" x2="844.8" y2="936.5" stroke="#FF8C00" stroke-width="2.3"/>
<line x1="825.8" y1="953.9" x2="844.8" y2="953.9" stroke="#FF8C00" stroke-width="2.3"/>
<line x1="943.4" y1="967.4" x2="943.4" y2="990.2" stroke="#FF8C00" stroke-width="2.3"/>
<line x1="933.9" y1="967.4" x2="952.9" y2="967.4" stroke="#FF8C00" stroke-width="2.3"/>
<line x1="933.9" y1="990.2" x2="952.9" y2="990.2" stroke="#FF8C00" stroke-width="2.3"/>
<polyline fill="none" stroke="#FF8C00" stroke-width="2.3" points="511,1069.2 564.8,768.9 619.2,794.5 727,911.5 835.3,944.9 943.4,979"/>
<ellipse cx="511" cy="1069.2" rx="8.4" ry="8.4" fill="#FF8C00"/>
<ellipse cx="564.8" cy="768.9" rx="8.4" ry="8.4" fill="#FF8C00"/>
<ellipse cx="619.2" cy="794.5" rx="8.4" ry="8.4" fill="#FF8C00"/>
<ellipse cx="727" cy="911.5" rx="8.4" ry="8.4" fill="#FF8C00"/>
<ellipse cx="835.3" cy="944.9" rx="8.4" ry="8.4" fill="#FF8C00"/>
<ellipse cx="943.4" cy="979" rx="8.4" ry="8.4" fill="#FF8C00"/>
<ellipse cx="682.9" cy="1064.7" rx="7.3" ry="7.3" fill="none" stroke="#000" stroke-width="2"/>
<line x1="664.5" y1="1064.7" x2="703" y2="1064.7" stroke="#000" stroke-width="2"/>
<text x="712.2" y="1075.6" font-size="32" stroke="#000" stroke-width="0.45">Control</text>
<line x1="664.5" y1="1101.8" x2="703" y2="1101.8" stroke="#FF8C00" stroke-width="2"/>
<ellipse cx="680.8" cy="1101.8" rx="8" ry="8" fill="#FF8C00"/>
<text x="710.9" y="1112.4" font-size="32" stroke="#000" stroke-width="0.45">GqD</text>
<polyline fill="none" stroke="#000" stroke-width="2" points="823.8,1051.8 832.3,1051.8 832.3,1113.6 823.8,1113.6"/>
<text x="839.3" y="1093.1" font-size="32" stroke="#000" stroke-width="0.45">+ CNO</text>
<text x="1084.5" y="697.2" font-size="73" font-weight="bold">e</text>
<line x1="1234.6" y1="708.5" x2="1234.6" y2="1135.2" stroke="#000" stroke-width="2"/>
<line x1="1227.6" y1="1134.2" x2="1639.9" y2="1134.2" stroke="#000" stroke-width="2"/>
<line x1="1227.6" y1="1134.2" x2="1234.6" y2="1134.2" stroke="#000" stroke-width="2"/>
<line x1="1227.6" y1="1028.03" x2="1234.6" y2="1028.03" stroke="#000" stroke-width="2"/>
<line x1="1227.6" y1="921.85" x2="1234.6" y2="921.85" stroke="#000" stroke-width="2"/>
<line x1="1227.6" y1="815.67" x2="1234.6" y2="815.67" stroke="#000" stroke-width="2"/>
<line x1="1227.6" y1="709.5" x2="1234.6" y2="709.5" stroke="#000" stroke-width="2"/>
<line x1="1234.2" y1="1134.2" x2="1234.2" y2="1140.5" stroke="#000" stroke-width="2"/>
<line x1="1335.7" y1="1134.2" x2="1335.7" y2="1140.5" stroke="#000" stroke-width="2"/>
<line x1="1436.9" y1="1134.2" x2="1436.9" y2="1140.5" stroke="#000" stroke-width="2"/>
<line x1="1538.1" y1="1134.2" x2="1538.1" y2="1140.5" stroke="#000" stroke-width="2"/>
<line x1="1638.9" y1="1134.2" x2="1638.9" y2="1140.5" stroke="#000" stroke-width="2"/>
<text x="1221" y="1144.4" font-size="32" text-anchor="end" stroke="#000" stroke-width="0.45">0</text>
<text x="1221" y="1038.23" font-size="32" text-anchor="end" stroke="#000" stroke-width="0.45">50</text>
<text x="1221" y="932.05" font-size="32" text-anchor="end" stroke="#000" stroke-width="0.45">100</text>
<text x="1221" y="825.88" font-size="32" text-anchor="end" stroke="#000" stroke-width="0.45">150</text>
<text x="1221" y="719.7" font-size="32" text-anchor="end" stroke="#000" stroke-width="0.45">200</text>
<text x="1234.2" y="1175.5" font-size="31.5" text-anchor="middle" stroke="#000" stroke-width="0.45">0</text>
<text x="1335.7" y="1175.5" font-size="31.5" text-anchor="middle" stroke="#000" stroke-width="0.45">30</text>
<text x="1436.9" y="1175.5" font-size="31.5" text-anchor="middle" stroke="#000" stroke-width="0.45">60</text>
<text x="1538.1" y="1175.5" font-size="31.5" text-anchor="middle" stroke="#000" stroke-width="0.45">90</text>
<text x="1638.9" y="1175.5" font-size="31.5" text-anchor="middle" stroke="#000" stroke-width="0.45">120</text>
<text x="1437" y="1225" font-size="34" text-anchor="middle" stroke="#000" stroke-width="0.45">Time (min)</text>
<text transform="translate(1144.2 921) rotate(-90)" font-size="33.9" text-anchor="middle" stroke="#000" stroke-width="0.45">Blood Glucose (mg/dl)</text>
<text x="1450.5" y="720.8" font-size="47.4" text-anchor="middle" stroke="#000" stroke-width="0.45">ITT</text>
<line x1="1234.2" y1="822" x2="1234.2" y2="824.25" stroke="#000" stroke-width="2.3"/>
<line x1="1234.2" y1="843.55" x2="1234.2" y2="845.5" stroke="#000" stroke-width="2.3"/>
<line x1="1224.7" y1="822" x2="1243.7" y2="822" stroke="#000" stroke-width="2.3"/>
<line x1="1224.7" y1="845.5" x2="1243.7" y2="845.5" stroke="#000" stroke-width="2.3"/>
<line x1="1284.8" y1="937.5" x2="1284.8" y2="941.25" stroke="#000" stroke-width="2.3"/>
<line x1="1284.8" y1="960.55" x2="1284.8" y2="963.9" stroke="#000" stroke-width="2.3"/>
<line x1="1275.3" y1="937.5" x2="1294.3" y2="937.5" stroke="#000" stroke-width="2.3"/>
<line x1="1275.3" y1="963.9" x2="1294.3" y2="963.9" stroke="#000" stroke-width="2.3"/>
<line x1="1528.6" y1="954.4" x2="1547.6" y2="954.4" stroke="#000" stroke-width="2.3"/>
<line x1="1528.6" y1="971.9" x2="1547.6" y2="971.9" stroke="#000" stroke-width="2.3"/>
<line x1="1638.9" y1="926.3" x2="1638.9" y2="927.15" stroke="#000" stroke-width="2.3"/>
<line x1="1638.9" y1="946.45" x2="1638.9" y2="947.3" stroke="#000" stroke-width="2.3"/>
<line x1="1629.4" y1="926.3" x2="1648.4" y2="926.3" stroke="#000" stroke-width="2.3"/>
<line x1="1629.4" y1="947.3" x2="1648.4" y2="947.3" stroke="#000" stroke-width="2.3"/>
<ellipse cx="1234.2" cy="833.9" rx="8.5" ry="8.5" fill="none" stroke="#000" stroke-width="2.3"/>
<ellipse cx="1284.8" cy="950.9" rx="8.5" ry="8.5" fill="none" stroke="#000" stroke-width="2.3"/>
<ellipse cx="1335.7" cy="984.2" rx="8.5" ry="8.5" fill="none" stroke="#000" stroke-width="2.3"/>
<ellipse cx="1436.9" cy="993" rx="8.5" ry="8.5" fill="none" stroke="#000" stroke-width="2.3"/>
<ellipse cx="1538.1" cy="963.1" rx="8.5" ry="8.5" fill="none" stroke="#000" stroke-width="2.3"/>
<ellipse cx="1638.9" cy="936.8" rx="8.5" ry="8.5" fill="none" stroke="#000" stroke-width="2.3"/>
<polyline fill="none" stroke="#000" stroke-width="2.3" points="1234.2,833.9 1284.8,950.9 1335.7,984.2 1436.9,993 1538.1,963.1 1638.9,936.8"/>
<line x1="1234.2" y1="788.2" x2="1234.2" y2="810.4" stroke="#FF8C00" stroke-width="2.3"/>
<line x1="1224.7" y1="788.2" x2="1243.7" y2="788.2" stroke="#FF8C00" stroke-width="2.3"/>
<line x1="1224.7" y1="810.4" x2="1243.7" y2="810.4" stroke="#FF8C00" stroke-width="2.3"/>
<line x1="1284.8" y1="902.4" x2="1284.8" y2="935" stroke="#FF8C00" stroke-width="2.3"/>
<line x1="1275.3" y1="902.4" x2="1294.3" y2="902.4" stroke="#FF8C00" stroke-width="2.3"/>
<line x1="1275.3" y1="935" x2="1294.3" y2="935" stroke="#FF8C00" stroke-width="2.3"/>
<line x1="1335.7" y1="967.4" x2="1335.7" y2="990.2" stroke="#FF8C00" stroke-width="2.3"/>
<line x1="1326.2" y1="967.4" x2="1345.2" y2="967.4" stroke="#FF8C00" stroke-width="2.3"/>
<line x1="1326.2" y1="990.2" x2="1345.2" y2="990.2" stroke="#FF8C00" stroke-width="2.3"/>
<line x1="1436.9" y1="963.9" x2="1436.9" y2="987" stroke="#FF8C00" stroke-width="2.3"/>
<line x1="1427.4" y1="963.9" x2="1446.4" y2="963.9" stroke="#FF8C00" stroke-width="2.3"/>
<line x1="1427.4" y1="987" x2="1446.4" y2="987" stroke="#FF8C00" stroke-width="2.3"/>
<line x1="1538.1" y1="941" x2="1538.1" y2="957.2" stroke="#FF8C00" stroke-width="2.3"/>
<line x1="1528.6" y1="941" x2="1547.6" y2="941" stroke="#FF8C00" stroke-width="2.3"/>
<line x1="1528.6" y1="957.2" x2="1547.6" y2="957.2" stroke="#FF8C00" stroke-width="2.3"/>
<line x1="1638.9" y1="921.7" x2="1638.9" y2="942.8" stroke="#FF8C00" stroke-width="2.3"/>
<line x1="1629.4" y1="921.7" x2="1648.4" y2="921.7" stroke="#FF8C00" stroke-width="2.3"/>
<line x1="1629.4" y1="942.8" x2="1648.4" y2="942.8" stroke="#FF8C00" stroke-width="2.3"/>
<polyline fill="none" stroke="#FF8C00" stroke-width="2.3" points="1234.2,799.1 1284.8,918.5 1335.7,979 1436.9,975.4 1538.1,949.1 1638.9,932.2"/>
<ellipse cx="1234.2" cy="799.1" rx="8.4" ry="8.4" fill="#FF8C00"/>
<ellipse cx="1284.8" cy="918.5" rx="8.4" ry="8.4" fill="#FF8C00"/>
<ellipse cx="1335.7" cy="979" rx="8.4" ry="8.4" fill="#FF8C00"/>
<ellipse cx="1436.9" cy="975.4" rx="8.4" ry="8.4" fill="#FF8C00"/>
<ellipse cx="1538.1" cy="949.1" rx="8.4" ry="8.4" fill="#FF8C00"/>
<ellipse cx="1638.9" cy="932.2" rx="8.4" ry="8.4" fill="#FF8C00"/>
<ellipse cx="1391.3" cy="1063.8" rx="7.3" ry="7.3" fill="none" stroke="#000" stroke-width="2"/>
<line x1="1373.2" y1="1063.8" x2="1411.7" y2="1063.8" stroke="#000" stroke-width="2"/>
<text x="1421.2" y="1074.5" font-size="32" stroke="#000" stroke-width="0.45">Control</text>
<line x1="1373.2" y1="1100.7" x2="1411.7" y2="1100.7" stroke="#FF8C00" stroke-width="2"/>
<ellipse cx="1389.7" cy="1100.7" rx="8" ry="8" fill="#FF8C00"/>
<text x="1419.9" y="1111.2" font-size="32" stroke="#000" stroke-width="0.45">GqD</text>
<polyline fill="none" stroke="#000" stroke-width="2" points="1533,1050.8 1541.5,1050.8 1541.5,1111.9 1533,1111.9"/>
<text x="1548" y="1091.4" font-size="32" stroke="#000" stroke-width="0.45">+ CNO</text>
<text x="356.8" y="1352" font-size="73" font-weight="bold">f</text>
<line x1="492.6" y1="1362" x2="492.6" y2="1781.6" stroke="#000" stroke-width="2"/>
<line x1="485.6" y1="1780.6" x2="909" y2="1780.6" stroke="#000" stroke-width="2"/>
<line x1="485.6" y1="1780.6" x2="492.6" y2="1780.6" stroke="#000" stroke-width="2"/>
<line x1="485.6" y1="1676.2" x2="492.6" y2="1676.2" stroke="#000" stroke-width="2"/>
<line x1="485.6" y1="1571.8" x2="492.6" y2="1571.8" stroke="#000" stroke-width="2"/>
<line x1="485.6" y1="1467.4" x2="492.6" y2="1467.4" stroke="#000" stroke-width="2"/>
<line x1="485.6" y1="1363" x2="492.6" y2="1363" stroke="#000" stroke-width="2"/>
<line x1="589.5" y1="1780.6" x2="589.5" y2="1786.9" stroke="#000" stroke-width="2"/>
<line x1="811.4" y1="1780.6" x2="811.4" y2="1786.9" stroke="#000" stroke-width="2"/>
<text x="479.3" y="1791.1" font-size="31" text-anchor="end" stroke="#000" stroke-width="0.45">0</text>
<text x="479.3" y="1686.7" font-size="31" text-anchor="end" stroke="#000" stroke-width="0.45">10</text>
<text x="479.3" y="1582.3" font-size="31" text-anchor="end" stroke="#000" stroke-width="0.45">20</text>
<text x="479.3" y="1477.9" font-size="31" text-anchor="end" stroke="#000" stroke-width="0.45">30</text>
<text x="479.3" y="1373.5" font-size="31" text-anchor="end" stroke="#000" stroke-width="0.45">40</text>
<text x="589.5" y="1822" font-size="30.5" text-anchor="middle" stroke="#000" stroke-width="0.45">0</text>
<text x="811.4" y="1822" font-size="30.5" text-anchor="middle" stroke="#000" stroke-width="0.45">30</text>
<text x="701" y="1863.6" font-size="34.1" text-anchor="middle" stroke="#000" stroke-width="0.45">Time after CNO (min)</text>
<text transform="translate(414.8 1571) rotate(-90)" font-size="33.9" text-anchor="middle" stroke="#000" stroke-width="0.45">Plasma Leptin (ng/ml)</text>
<ellipse cx="518.1" cy="1380.8" rx="6.4" ry="6.4" fill="none" stroke="#000" stroke-width="4"/>
<text x="543" y="1390" font-size="29.9" stroke="#000" stroke-width="0.45">Control</text>
<ellipse cx="519.8" cy="1415.9" rx="6.5" ry="6.5" fill="#FF8C00"/>
<text x="543.8" y="1424.9" font-size="29.9" stroke="#000" stroke-width="0.45">GqD</text>
<polyline fill="none" stroke="#000" stroke-width="2" points="520.6,1780.6 520.6,1712.5 576.4,1712.5 576.4,1780.6"/>
<line x1="548.4" y1="1702.2" x2="548.4" y2="1721.2" stroke="#000" stroke-width="2"/>
<line x1="534.1" y1="1702.2" x2="562.7" y2="1702.2" stroke="#000" stroke-width="2"/>
<line x1="534.1" y1="1721.2" x2="562.7" y2="1721.2" stroke="#000" stroke-width="2"/>
<polyline fill="none" stroke="#FF8C00" stroke-width="2" points="603.8,1780.6 603.8,1703 659.7,1703 659.7,1780.6"/>
<line x1="631.4" y1="1685.1" x2="631.4" y2="1719" stroke="#FF8C00" stroke-width="2"/>
<line x1="617.1" y1="1685.1" x2="645.7" y2="1685.1" stroke="#FF8C00" stroke-width="2"/>
<line x1="617.1" y1="1719" x2="645.7" y2="1719" stroke="#FF8C00" stroke-width="2"/>
<polyline fill="none" stroke="#000" stroke-width="2" points="742.9,1780.6 742.9,1692.5 798.3,1692.5 798.3,1780.6"/>
<line x1="770.3" y1="1679.7" x2="770.3" y2="1702.8" stroke="#000" stroke-width="2"/>
<line x1="756" y1="1679.7" x2="784.6" y2="1679.7" stroke="#000" stroke-width="2"/>
<line x1="756" y1="1702.8" x2="784.6" y2="1702.8" stroke="#000" stroke-width="2"/>
<polyline fill="none" stroke="#FF8C00" stroke-width="2" points="826.1,1780.6 826.1,1682.6 881.6,1682.6 881.6,1780.6"/>
<line x1="853.8" y1="1660.4" x2="853.8" y2="1702.4" stroke="#FF8C00" stroke-width="2"/>
<line x1="839.5" y1="1660.4" x2="868.1" y2="1660.4" stroke="#FF8C00" stroke-width="2"/>
<line x1="839.5" y1="1702.4" x2="868.1" y2="1702.4" stroke="#FF8C00" stroke-width="2"/>
<ellipse cx="548.4" cy="1640.2" rx="5.9" ry="5.9" fill="none" stroke="#000" stroke-width="2.3"/>
<ellipse cx="548.4" cy="1663.4" rx="5.9" ry="5.9" fill="none" stroke="#000" stroke-width="2.3"/>
<ellipse cx="527.1" cy="1698.5" rx="5.9" ry="5.9" fill="none" stroke="#000" stroke-width="2.3"/>
<ellipse cx="570.1" cy="1703" rx="5.9" ry="5.9" fill="none" stroke="#000" stroke-width="2.3"/>
<ellipse cx="541.2" cy="1709.3" rx="5.9" ry="5.9" fill="none" stroke="#000" stroke-width="2.3"/>
<ellipse cx="555.3" cy="1712.5" rx="5.9" ry="5.9" fill="none" stroke="#000" stroke-width="2.3"/>
<ellipse cx="527.1" cy="1715" rx="5.9" ry="5.9" fill="none" stroke="#000" stroke-width="2.3"/>
<ellipse cx="570.1" cy="1722" rx="5.9" ry="5.9" fill="none" stroke="#000" stroke-width="2.3"/>
<ellipse cx="527.1" cy="1734" rx="5.9" ry="5.9" fill="none" stroke="#000" stroke-width="2.3"/>
<ellipse cx="555.3" cy="1733.5" rx="5.9" ry="5.9" fill="none" stroke="#000" stroke-width="2.3"/>
<ellipse cx="561" cy="1749.8" rx="5.9" ry="5.9" fill="none" stroke="#000" stroke-width="2.3"/>
<ellipse cx="535.3" cy="1753.6" rx="5.9" ry="5.9" fill="none" stroke="#000" stroke-width="2.3"/>
<ellipse cx="770.3" cy="1588.5" rx="5.9" ry="5.9" fill="none" stroke="#000" stroke-width="2.3"/>
<ellipse cx="770.3" cy="1654.3" rx="5.9" ry="5.9" fill="none" stroke="#000" stroke-width="2.3"/>
<ellipse cx="791.8" cy="1681.7" rx="5.9" ry="5.9" fill="none" stroke="#000" stroke-width="2.3"/>
<ellipse cx="777.7" cy="1687.2" rx="5.9" ry="5.9" fill="none" stroke="#000" stroke-width="2.3"/>
<ellipse cx="749.2" cy="1691.8" rx="5.9" ry="5.9" fill="none" stroke="#000" stroke-width="2.3"/>
<ellipse cx="763.3" cy="1695" rx="5.9" ry="5.9" fill="none" stroke="#000" stroke-width="2.3"/>
<ellipse cx="791.8" cy="1695" rx="5.9" ry="5.9" fill="none" stroke="#000" stroke-width="2.3"/>
<ellipse cx="777" cy="1702.3" rx="5.9" ry="5.9" fill="none" stroke="#000" stroke-width="2.3"/>
<ellipse cx="749.2" cy="1706.6" rx="5.9" ry="5.9" fill="none" stroke="#000" stroke-width="2.3"/>
<ellipse cx="757.7" cy="1720.3" rx="5.9" ry="5.9" fill="none" stroke="#000" stroke-width="2.3"/>
<ellipse cx="782.9" cy="1731.8" rx="5.9" ry="5.9" fill="none" stroke="#000" stroke-width="2.3"/>
<ellipse cx="757.7" cy="1741.3" rx="5.9" ry="5.9" fill="none" stroke="#000" stroke-width="2.3"/>
<ellipse cx="631.4" cy="1573.2" rx="6.5" ry="6.5" fill="#FF8C00"/>
<ellipse cx="631.4" cy="1662.9" rx="6.5" ry="6.5" fill="#FF8C00"/>
<ellipse cx="653.3" cy="1666.5" rx="6.5" ry="6.5" fill="#FF8C00"/>
<ellipse cx="610.3" cy="1673.5" rx="6.5" ry="6.5" fill="#FF8C00"/>
<ellipse cx="618.8" cy="1703.8" rx="6.5" ry="6.5" fill="#FF8C00"/>
<ellipse cx="644.5" cy="1703.4" rx="6.5" ry="6.5" fill="#FF8C00"/>
<ellipse cx="631.4" cy="1717.1" rx="6.5" ry="6.5" fill="#FF8C00"/>
<ellipse cx="624.5" cy="1750.2" rx="6.5" ry="6.5" fill="#FF8C00"/>
<ellipse cx="638.6" cy="1754.4" rx="6.5" ry="6.5" fill="#FF8C00"/>
<ellipse cx="653.3" cy="1754.4" rx="6.5" ry="6.5" fill="#FF8C00"/>
<ellipse cx="610.3" cy="1757.8" rx="6.5" ry="6.5" fill="#FF8C00"/>
<ellipse cx="853.8" cy="1508" rx="6.5" ry="6.5" fill="#FF8C00"/>
<ellipse cx="853.8" cy="1626.9" rx="6.5" ry="6.5" fill="#FF8C00"/>
<ellipse cx="866.6" cy="1650.7" rx="6.5" ry="6.5" fill="#FF8C00"/>
<ellipse cx="840.9" cy="1658.7" rx="6.5" ry="6.5" fill="#FF8C00"/>
<ellipse cx="840.9" cy="1689.7" rx="6.5" ry="6.5" fill="#FF8C00"/>
<ellipse cx="866.6" cy="1697.1" rx="6.5" ry="6.5" fill="#FF8C00"/>
<ellipse cx="840.9" cy="1704" rx="6.5" ry="6.5" fill="#FF8C00"/>
<ellipse cx="866.6" cy="1721.9" rx="6.5" ry="6.5" fill="#FF8C00"/>
<ellipse cx="840.9" cy="1734.4" rx="6.5" ry="6.5" fill="#FF8C00"/>
<ellipse cx="866.6" cy="1746.6" rx="6.5" ry="6.5" fill="#FF8C00"/>
<ellipse cx="840.9" cy="1754.4" rx="6.5" ry="6.5" fill="#FF8C00"/>
<text x="1023.6" y="1347.8" font-size="75" font-weight="bold">g</text>
<line x1="1169.6" y1="1357.4" x2="1169.6" y2="1776.6" stroke="#000" stroke-width="2"/>
<line x1="1162.6" y1="1775.6" x2="1586.5" y2="1775.6" stroke="#000" stroke-width="2"/>
<line x1="1162.6" y1="1775.6" x2="1169.6" y2="1775.6" stroke="#000" stroke-width="2"/>
<line x1="1162.6" y1="1636.53" x2="1169.6" y2="1636.53" stroke="#000" stroke-width="2"/>
<line x1="1162.6" y1="1497.47" x2="1169.6" y2="1497.47" stroke="#000" stroke-width="2"/>
<line x1="1162.6" y1="1358.4" x2="1169.6" y2="1358.4" stroke="#000" stroke-width="2"/>
<line x1="1266" y1="1775.6" x2="1266" y2="1781.9" stroke="#000" stroke-width="2"/>
<line x1="1488.3" y1="1775.6" x2="1488.3" y2="1781.9" stroke="#000" stroke-width="2"/>
<text x="1156" y="1786.4" font-size="30.5" text-anchor="end" stroke="#000" stroke-width="0.45">0</text>
<text x="1156" y="1647.33" font-size="30.5" text-anchor="end" stroke="#000" stroke-width="0.45">0.5</text>
<text x="1156" y="1508.27" font-size="30.5" text-anchor="end" stroke="#000" stroke-width="0.45">1.0</text>
<text x="1156" y="1369.2" font-size="30.5" text-anchor="end" stroke="#000" stroke-width="0.45">1.5</text>
<text x="1266" y="1817.7" font-size="30.5" text-anchor="middle" stroke="#000" stroke-width="0.45">0</text>
<text x="1488.3" y="1817.7" font-size="30.5" text-anchor="middle" stroke="#000" stroke-width="0.45">30</text>
<text x="1378" y="1866" font-size="34.1" text-anchor="middle" stroke="#000" stroke-width="0.45">Time after CNO (min)</text>
<text transform="translate(1088.3 1566.5) rotate(-90)" font-size="34.3" text-anchor="middle" stroke="#000" stroke-width="0.45">Plasma FFA (mM)</text>
<ellipse cx="1195.6" cy="1375" rx="6.4" ry="6.4" fill="none" stroke="#000" stroke-width="3.9"/>
<text x="1220.2" y="1383.8" font-size="29.9" stroke="#000" stroke-width="0.45">Control</text>
<ellipse cx="1197.2" cy="1409.9" rx="6.5" ry="6.5" fill="#FF8C00"/>
<text x="1221.2" y="1418.4" font-size="29.9" stroke="#000" stroke-width="0.45">GqD</text>
<polyline fill="none" stroke="#000" stroke-width="2" points="1197.2,1775.6 1197.2,1593.7 1253.1,1593.7 1253.1,1775.6"/>
<line x1="1224.9" y1="1581.3" x2="1224.9" y2="1604.8" stroke="#000" stroke-width="2"/>
<line x1="1210.4" y1="1581.3" x2="1239.4" y2="1581.3" stroke="#000" stroke-width="2"/>
<line x1="1210.4" y1="1604.8" x2="1239.4" y2="1604.8" stroke="#000" stroke-width="2"/>
<polyline fill="none" stroke="#FF8C00" stroke-width="2" points="1280.4,1775.6 1280.4,1624.1 1336.3,1624.1 1336.3,1775.6"/>
<line x1="1308.3" y1="1607" x2="1308.3" y2="1639.2" stroke="#FF8C00" stroke-width="2"/>
<line x1="1293.8" y1="1607" x2="1322.8" y2="1607" stroke="#FF8C00" stroke-width="2"/>
<line x1="1293.8" y1="1639.2" x2="1322.8" y2="1639.2" stroke="#FF8C00" stroke-width="2"/>
<polyline fill="none" stroke="#000" stroke-width="2" points="1419.7,1775.6 1419.7,1534.9 1475,1534.9 1475,1775.6"/>
<line x1="1447" y1="1519.1" x2="1447" y2="1549.1" stroke="#000" stroke-width="2"/>
<line x1="1432.5" y1="1519.1" x2="1461.5" y2="1519.1" stroke="#000" stroke-width="2"/>
<line x1="1432.5" y1="1549.1" x2="1461.5" y2="1549.1" stroke="#000" stroke-width="2"/>
<polyline fill="none" stroke="#FF8C00" stroke-width="2" points="1502.7,1775.6 1502.7,1627 1558.4,1627 1558.4,1775.6"/>
<line x1="1530.4" y1="1598.1" x2="1530.4" y2="1654" stroke="#FF8C00" stroke-width="2"/>
<line x1="1515.9" y1="1598.1" x2="1544.9" y2="1598.1" stroke="#FF8C00" stroke-width="2"/>
<line x1="1515.9" y1="1654" x2="1544.9" y2="1654" stroke="#FF8C00" stroke-width="2"/>
<ellipse cx="1212" cy="1532" rx="5.9" ry="5.9" fill="none" stroke="#000" stroke-width="2.3"/>
<ellipse cx="1212" cy="1546" rx="5.9" ry="5.9" fill="none" stroke="#000" stroke-width="2.3"/>
<ellipse cx="1237.6" cy="1538.7" rx="5.9" ry="5.9" fill="none" stroke="#000" stroke-width="2.3"/>
<ellipse cx="1224.9" cy="1574.6" rx="5.9" ry="5.9" fill="none" stroke="#000" stroke-width="2.3"/>
<ellipse cx="1203.8" cy="1589" rx="5.9" ry="5.9" fill="none" stroke="#000" stroke-width="2.3"/>
<ellipse cx="1246.7" cy="1591.5" rx="5.9" ry="5.9" fill="none" stroke="#000" stroke-width="2.3"/>
<ellipse cx="1224.9" cy="1592.4" rx="5.9" ry="5.9" fill="none" stroke="#000" stroke-width="2.3"/>
<ellipse cx="1203.8" cy="1605.2" rx="5.9" ry="5.9" fill="none" stroke="#000" stroke-width="2.3"/>
<ellipse cx="1246.7" cy="1604.8" rx="5.9" ry="5.9" fill="none" stroke="#000" stroke-width="2.3"/>
<ellipse cx="1224.9" cy="1643.6" rx="5.9" ry="5.9" fill="none" stroke="#000" stroke-width="2.3"/>
<ellipse cx="1246.7" cy="1648.5" rx="5.9" ry="5.9" fill="none" stroke="#000" stroke-width="2.3"/>
<ellipse cx="1203.8" cy="1654" rx="5.9" ry="5.9" fill="none" stroke="#000" stroke-width="2.3"/>
<ellipse cx="1447" cy="1462.6" rx="5.9" ry="5.9" fill="none" stroke="#000" stroke-width="2.3"/>
<ellipse cx="1447" cy="1478.8" rx="5.9" ry="5.9" fill="none" stroke="#000" stroke-width="2.3"/>
<ellipse cx="1468.5" cy="1486.1" rx="5.9" ry="5.9" fill="none" stroke="#000" stroke-width="2.3"/>
<ellipse cx="1425.7" cy="1489.2" rx="5.9" ry="5.9" fill="none" stroke="#000" stroke-width="2.3"/>
<ellipse cx="1459.7" cy="1508.3" rx="5.9" ry="5.9" fill="none" stroke="#000" stroke-width="2.3"/>
<ellipse cx="1434.1" cy="1518" rx="5.9" ry="5.9" fill="none" stroke="#000" stroke-width="2.3"/>
<ellipse cx="1447" cy="1533.8" rx="5.9" ry="5.9" fill="none" stroke="#000" stroke-width="2.3"/>
<ellipse cx="1459.7" cy="1565.3" rx="5.9" ry="5.9" fill="none" stroke="#000" stroke-width="2.3"/>
<ellipse cx="1434.1" cy="1566.8" rx="5.9" ry="5.9" fill="none" stroke="#000" stroke-width="2.3"/>
<ellipse cx="1459.7" cy="1588.6" rx="5.9" ry="5.9" fill="none" stroke="#000" stroke-width="2.3"/>
<ellipse cx="1434.1" cy="1594.1" rx="5.9" ry="5.9" fill="none" stroke="#000" stroke-width="2.3"/>
<ellipse cx="1447" cy="1618.5" rx="5.9" ry="5.9" fill="none" stroke="#000" stroke-width="2.3"/>
<ellipse cx="1308.3" cy="1515.4" rx="6.5" ry="6.5" fill="#FF8C00"/>
<ellipse cx="1287" cy="1592.4" rx="6.5" ry="6.5" fill="#FF8C00"/>
<ellipse cx="1308.3" cy="1593.7" rx="6.5" ry="6.5" fill="#FF8C00"/>
<ellipse cx="1329.6" cy="1595.9" rx="6.5" ry="6.5" fill="#FF8C00"/>
<ellipse cx="1287" cy="1605.2" rx="6.5" ry="6.5" fill="#FF8C00"/>
<ellipse cx="1308.3" cy="1619.6" rx="6.5" ry="6.5" fill="#FF8C00"/>
<ellipse cx="1295.5" cy="1635.2" rx="6.5" ry="6.5" fill="#FF8C00"/>
<ellipse cx="1321" cy="1647.8" rx="6.5" ry="6.5" fill="#FF8C00"/>
<ellipse cx="1295.5" cy="1652.3" rx="6.5" ry="6.5" fill="#FF8C00"/>
<ellipse cx="1308.3" cy="1678.4" rx="6.5" ry="6.5" fill="#FF8C00"/>
<ellipse cx="1308.3" cy="1719.5" rx="6.5" ry="6.5" fill="#FF8C00"/>
<ellipse cx="1530.4" cy="1472.5" rx="6.5" ry="6.5" fill="#FF8C00"/>
<ellipse cx="1530.4" cy="1496.5" rx="6.5" ry="6.5" fill="#FF8C00"/>
<ellipse cx="1530.4" cy="1527.1" rx="6.5" ry="6.5" fill="#FF8C00"/>
<ellipse cx="1530.4" cy="1562" rx="6.5" ry="6.5" fill="#FF8C00"/>
<ellipse cx="1530.4" cy="1642.9" rx="6.5" ry="6.5" fill="#FF8C00"/>
<ellipse cx="1552.2" cy="1687.8" rx="6.5" ry="6.5" fill="#FF8C00"/>
<ellipse cx="1508.9" cy="1689.5" rx="6.5" ry="6.5" fill="#FF8C00"/>
<ellipse cx="1537.3" cy="1692.2" rx="6.5" ry="6.5" fill="#FF8C00"/>
<ellipse cx="1523.3" cy="1696.2" rx="6.5" ry="6.5" fill="#FF8C00"/>
<ellipse cx="1537.3" cy="1706.2" rx="6.5" ry="6.5" fill="#FF8C00"/>
<ellipse cx="1523.3" cy="1715" rx="6.5" ry="6.5" fill="#FF8C00"/>
<text x="1439.7" y="1405" font-size="29.2" fill="#1a1a1a" stroke="#1a1a1a" stroke-width="0.3">p=0.002</text>
<line x1="1483" y1="1412.9" x2="1489" y2="1412.9" stroke="#aaa" stroke-width="0.8"/>
<line x1="1497" y1="1412.9" x2="1503" y2="1412.9" stroke="#aaa" stroke-width="0.8"/>
<line x1="1447.9" y1="1425.1" x2="1534.4" y2="1425.1" stroke="#000" stroke-width="2"/>
<line x1="1447.9" y1="1415.1" x2="1447.9" y2="1435.5" stroke="#000" stroke-width="2"/>
<line x1="1534.4" y1="1415.1" x2="1534.4" y2="1435.5" stroke="#000" stroke-width="2"/>
</svg>
</body>
</html>
